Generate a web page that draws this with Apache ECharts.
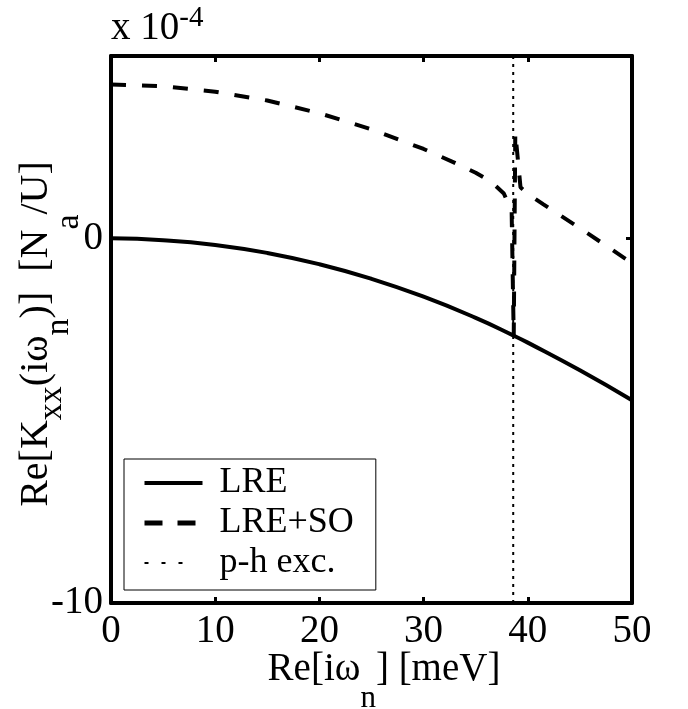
<!DOCTYPE html>
<html><head><meta charset="utf-8">
<script src="https://cdn.jsdelivr.net/npm/echarts@6/dist/echarts.min.js"></script>
<style>html,body{margin:0;padding:0;background:#fff}#c{width:688px;height:709px}</style>
</head><body><div id="c"></div>
<script>
// x ticks (meV)
const xTicks = [0, 10, 20, 30, 40, 50];
// y tick labels (units of 1e-4)
const yTickLabels = [-10, 0];

// LRE (solid)
const lreX = [0, 5, 10, 15, 20, 25, 30, 35, 38.6, 40, 45, 50];
const lreY = [0, -0.05, -0.18, -0.40, -0.71, -1.11, -1.60, -2.18, -2.66, -2.86, -3.62, -4.44];

// LRE+SO (dashed)
const soX = [0, 5, 10, 15, 20, 25, 30, 33, 35, 36.5, 37.7, 38.45, 38.65, 38.8, 39.3, 40, 41.5, 43, 45, 47.5, 50];
const soY = [4.22, 4.17, 4.02, 3.78, 3.43, 2.99, 2.45, 2.07, 1.80, 1.55, 1.23, 0.75, -2.70, 2.90, 1.40, 1.22, 0.93, 0.65, 0.28, -0.20, -0.68];

// p-h excitation (dotted vertical)
const phX = [38.6, 38.6];
const phY = [-10, 5];

const FF = 'Liberation Serif';
const zip = (a, b) => a.map((v, i) => [v, b[i]]);

const chart = echarts.init(document.getElementById('c'), null, {renderer: 'canvas'});

const axisLine = {show: true, onZero: false, lineStyle: {color: '#000', width: 4}};
const axisTick = {show: true, inside: true, length: 6, lineStyle: {color: '#000', width: 3}};

chart.setOption({
  animation: false,
  backgroundColor: '#fff',
  title: {
    text: 'x 10{sup|-4}',
    left: 111, top: 4, padding: 0,
    textStyle: {
      fontFamily: FF, fontSize: 39, fontWeight: 'normal', color: '#000',
      rich: {sup: {fontFamily: FF, fontSize: 29, fontWeight: 'normal', color: '#000', padding: [0, 0, 20, 0]}}
    }
  },
  grid: {left: 111, right: 56, top: 56, bottom: 106, containLabel: false, outerBoundsMode: 'none'},
  legend: {
    orient: 'vertical',
    left: 124, top: 459,
    padding: [5, 22, 8, 18],
    itemGap: 2,
    itemWidth: 58, itemHeight: 14,
    borderColor: '#000', borderWidth: 1,
    backgroundColor: '#fff',
    itemStyle: {opacity: 0},
    data: [
      {name: 'LRE', lineStyle: {width: 4}},
      {name: 'LRE+SO', lineStyle: {width: 5, type: [18, 15]}},
      {name: 'p-h exc.', lineStyle: {width: 2, type: [4, 13, 4, 13, 4, 40]}}
    ],
    textStyle: {fontFamily: FF, fontSize: 36, color: '#000', lineHeight: 38, padding: [0, 0, 0, 12]}
  },
  xAxis: [
    {
      type: 'value', position: 'bottom', min: 0, max: 50, interval: 10,
      axisLine, axisTick,
      axisLabel: {color: '#000', fontFamily: FF, fontSize: 39, margin: 9,
        formatter: v => xTicks.includes(v) ? String(v) : ''},
      splitLine: {show: false},
      name: 'Re[iω{n|n}] [meV]',
      nameLocation: 'middle', nameGap: 22, nameMoveOverlap: false,
      nameTextStyle: {
        fontFamily: FF, fontSize: 39, color: '#000', padding: [0, 0, 0, 25],
        rich: {n: {fontFamily: FF, fontSize: 31, color: '#000', padding: [58, 0, 0, 0]}}
      }
    },
    {
      type: 'value', position: 'top', min: 0, max: 50, interval: 10,
      axisLine, axisTick, axisLabel: {show: false}, splitLine: {show: false}
    }
  ],
  yAxis: [
    {
      type: 'value', position: 'left', min: -10, max: 5, interval: 10,
      axisLine, axisTick,
      axisLabel: {color: '#000', fontFamily: FF, fontSize: 39, margin: 8,
        formatter: v => yTickLabels.includes(v) ? String(v) : ''},
      splitLine: {show: false},
      name: 'Re[K{a|xx}(iω{b|n})]  [N{c|a}/U]',
      nameLocation: 'middle', nameRotate: 90, nameGap: 25, nameMoveOverlap: false,
      nameTextStyle: {
        fontFamily: FF, fontSize: 40, color: '#000', padding: [0, 9, 0, 0],
        rich: {
          a: {fontFamily: FF, fontSize: 34, color: '#000', padding: [32, 0, 0, 0]},
          b: {fontFamily: FF, fontSize: 34, color: '#000', padding: [46, 0, 0, 0]},
          c: {fontFamily: FF, fontSize: 34, color: '#000', padding: [66, 0, 0, 0]}
        }
      }
    },
    {
      type: 'value', position: 'right', min: -10, max: 5, interval: 10,
      axisLine, axisTick, axisLabel: {show: false}, splitLine: {show: false}
    }
  ],
  series: [
    {
      name: 'LRE', type: 'line', data: zip(lreX, lreY), smooth: true,
      symbol: 'none', showSymbol: false,
      lineStyle: {color: '#000', width: 4, type: 'solid'}, itemStyle: {color: '#000'}
    },
    {
      name: 'LRE+SO', type: 'line', data: zip(soX, soY), smooth: false,
      symbol: 'none', showSymbol: false,
      lineStyle: {color: '#000', width: 4, type: [15, 16]}, itemStyle: {color: '#000'}
    },
    {
      name: 'p-h exc.', type: 'line', data: zip(phX, phY),
      symbol: 'none', showSymbol: false,
      lineStyle: {color: '#000', width: 2, type: [3, 5]}, itemStyle: {color: '#000'}
    }
  ]
});
</script>
</body></html>
